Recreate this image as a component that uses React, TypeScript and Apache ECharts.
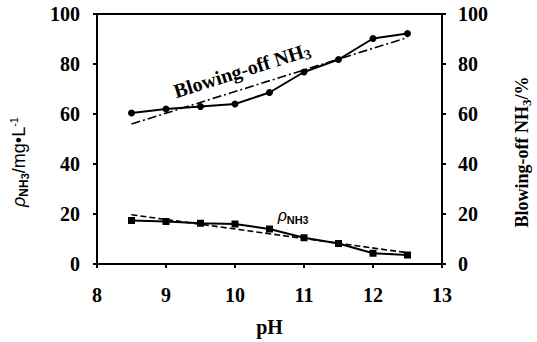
import React, { useEffect, useRef } from "react";
import * as echarts from "echarts";

const pH = [8.5, 9, 9.5, 10, 10.5, 11, 11.5, 12, 12.5];
const blowingOff = [60.4, 62, 63, 64, 68.6, 76.8, 81.8, 90.2, 92.2];
const rhoNH3 = [17.4, 17, 16.3, 16, 14, 10.5, 8.2, 4.3, 3.6];
const blowingTrendX = [8.5, 12.5];
const blowingTrendY = [56, 90.6];
const rhoTrendX = [8.5, 12.5];
const rhoTrendY = [19.7, 4.5];
const xTicks = [8, 9, 10, 11, 12, 13];
const yTicks = [0, 20, 40, 60, 80, 100];

const serif = "Liberation Serif";
const sans = "Liberation Sans";

export default function App() {
  const ref = useRef<HTMLDivElement>(null);
  useEffect(() => {
    if (!ref.current) return;
    const chart = echarts.init(ref.current, undefined, { renderer: "svg" });
    const tickLabel = {
      fontFamily: serif,
      fontWeight: "bold",
      fontSize: 20,
      color: "#000",
      formatter: (v: number) => "{t|" + v + "}",
      rich: { t: { fontFamily: serif, fontWeight: "bold", fontSize: 20, color: "#000" } },
    };
    const axisLine = { lineStyle: { color: "#000", width: 2 } };
    const axisTick = { inside: false, length: 4, lineStyle: { color: "#000", width: 2 } };
    const yAxisBase = {
      type: "value",
      min: yTicks[0],
      max: yTicks[yTicks.length - 1],
      interval: 20,
      axisLine: { show: true, ...axisLine },
      axisTick,
      splitLine: { show: false },
    };
    chart.setOption({
      animation: false,
      backgroundColor: "#fff",
      textStyle: { fontFamily: serif, fontWeight: "bold" },
      grid: {
        left: 97,
        right: 95,
        top: 14,
        bottom: 74,
        show: true,
        borderColor: "#000",
        borderWidth: 2,
        backgroundColor: "transparent",
      },
      xAxis: {
        type: "value",
        min: xTicks[0],
        max: xTicks[xTicks.length - 1],
        interval: 1,
        axisLine,
        axisTick,
        axisLabel: { ...tickLabel, margin: 21 },
        splitLine: { show: false },
        name: "pH",
        nameLocation: "middle",
        nameGap: 53,
        nameTextStyle: { fontFamily: serif, fontWeight: "bold", fontSize: 20, color: "#000" },
      },
      yAxis: [
        { ...yAxisBase, position: "left", axisLabel: { ...tickLabel, margin: 17 } },
        { ...yAxisBase, position: "right", axisLabel: { ...tickLabel, margin: 16 } },
      ],
      series: [
        {
          type: "line",
          yAxisIndex: 1,
          data: pH.map((x, i) => [x, blowingOff[i]]),
          symbol: "circle",
          symbolSize: 7,
          lineStyle: { color: "#000", width: 2 },
          itemStyle: { color: "#000" },
          z: 3,
        },
        {
          type: "line",
          yAxisIndex: 1,
          data: blowingTrendX.map((x, i) => [x, blowingTrendY[i]]),
          symbol: "none",
          lineStyle: { color: "#000", width: 1.6, type: [9, 3, 2, 3] },
        },
        {
          type: "line",
          yAxisIndex: 0,
          data: pH.map((x, i) => [x, rhoNH3[i]]),
          symbol: "rect",
          symbolSize: 7,
          lineStyle: { color: "#000", width: 2 },
          itemStyle: { color: "#000" },
          z: 3,
        },
        {
          type: "line",
          yAxisIndex: 0,
          data: rhoTrendX.map((x, i) => [x, rhoTrendY[i]]),
          symbol: "none",
          lineStyle: { color: "#000", width: 1.6, type: [6, 3] },
        },
      ],
    });

    const p1 = chart.convertToPixel({ xAxisIndex: 0, yAxisIndex: 1 }, [10.1, 77.5]) as number[];
    const p2 = chart.convertToPixel({ xAxisIndex: 0, yAxisIndex: 0 }, [10.84, 19.5]) as number[];

    chart.setOption({
      graphic: [
        {
          type: "text",
          x: p1[0],
          y: p1[1],
          rotation: (17.5 * Math.PI) / 180,
          style: {
            text: "{m|Blowing-off NH}{s|3}",
            align: "center",
            verticalAlign: "middle",
            rich: {
              m: { fontFamily: serif, fontWeight: "bold", fontSize: 20, lineHeight: 24, fill: "#000" },
              s: { fontFamily: serif, fontWeight: "bold", fontSize: 14, lineHeight: 14, verticalAlign: "bottom", fill: "#000" },
            },
          },
        },
        {
          type: "text",
          x: p2[0],
          y: p2[1],
          style: {
            text: "{r|ρ}{n|NH}{t|3}",
            align: "center",
            verticalAlign: "middle",
            rich: {
              r: { fontFamily: sans, fontStyle: "italic", fontWeight: "normal", fontSize: 16, lineHeight: 20, fill: "#000" },
              n: { fontFamily: sans, fontWeight: "bold", fontSize: 11, lineHeight: 11, verticalAlign: "bottom", fill: "#000" },
              t: { fontFamily: sans, fontWeight: "bold", fontSize: 10, lineHeight: 8, verticalAlign: "bottom", fill: "#000" },
            },
          },
        },
        {
          type: "text",
          x: 19,
          y: 162,
          rotation: Math.PI / 2,
          style: {
            text: "{r|ρ}{n|NH}{t|3}{m|/mg•L}{u|-1}",
            align: "center",
            verticalAlign: "middle",
            rich: {
              r: { fontFamily: sans, fontStyle: "italic", fontWeight: "normal", fontSize: 18, lineHeight: 22, fill: "#000" },
              n: { fontFamily: sans, fontWeight: "bold", fontSize: 12, lineHeight: 12, verticalAlign: "bottom", fill: "#000" },
              t: { fontFamily: sans, fontWeight: "bold", fontSize: 11, lineHeight: 8, verticalAlign: "bottom", fill: "#000" },
              m: { fontFamily: sans, fontWeight: "normal", fontSize: 18, lineHeight: 22, fill: "#000" },
              u: { fontFamily: sans, fontWeight: "normal", fontSize: 11, lineHeight: 12, verticalAlign: "top", fill: "#000" },
            },
          },
        },
        {
          type: "text",
          x: 522,
          y: 152,
          rotation: Math.PI / 2,
          style: {
            text: "{m|Blowing-off NH}{s|3}{m|/%}",
            align: "center",
            verticalAlign: "middle",
            rich: {
              m: { fontFamily: serif, fontWeight: "bold", fontSize: 18, lineHeight: 22, fill: "#000" },
              s: { fontFamily: serif, fontWeight: "bold", fontSize: 13, lineHeight: 13, verticalAlign: "bottom", fill: "#000" },
            },
          },
        },
      ],
    });
    return () => chart.dispose();
  }, []);
  return <div ref={ref} style={{ width: 537, height: 342, position: "absolute", left: 0, top: 0 }} />;
}
